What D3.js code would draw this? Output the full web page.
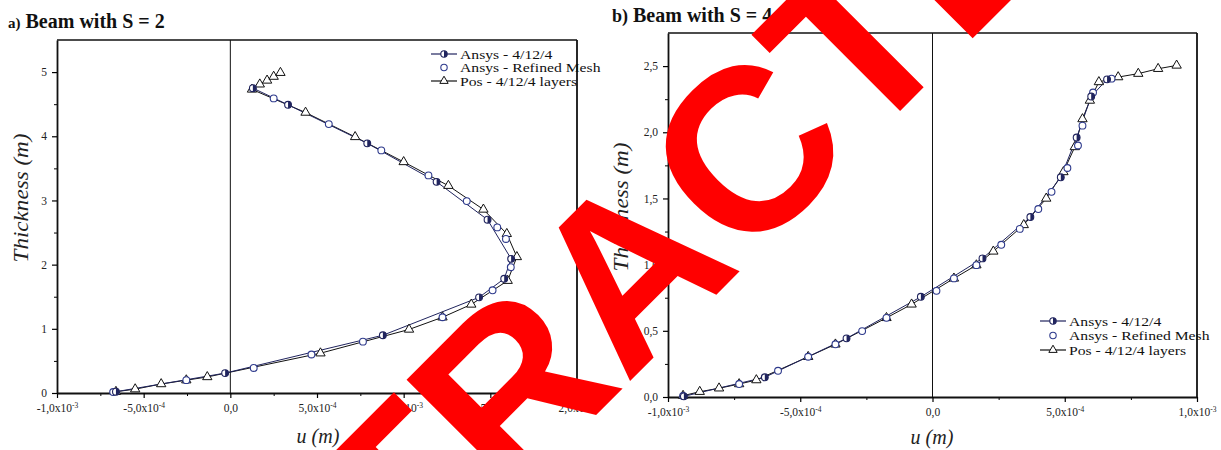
<!DOCTYPE html>
<html>
<head>
<meta charset="utf-8">
<script src="https://cdn.jsdelivr.net/npm/d3@7"></script>
<style>
  body { margin: 0; background: #fff; }
  svg { display: block; }
</style>
</head>
<body>
<svg id="chart" width="1221" height="450"></svg>
<script>
// ---- Panel a) beam with S = 2 : [u (m), thickness (m)] ----
const leftAnsys = [
  [-6.6e-4, 0.02], [-3.0e-5, 0.31], [8.8e-4, 0.90], [1.435e-3, 1.49], [1.58e-3, 1.78],
  [1.62e-3, 2.09], [1.484e-3, 2.70], [1.19e-3, 3.29], [7.9e-4, 3.89], [3.33e-4, 4.49],
  [1.3e-4, 4.75]
];
const leftRefined = [
  [-6.76e-4, 0.015], [-2.54e-4, 0.20], [1.35e-4, 0.39], [4.68e-4, 0.60], [7.65e-4, 0.80],
  [1.224e-3, 1.18], [1.513e-3, 1.60], [1.618e-3, 1.96], [1.59e-3, 2.40], [1.54e-3, 2.58],
  [1.364e-3, 2.99], [1.143e-3, 3.39], [8.71e-4, 3.78], [5.68e-4, 4.19], [2.5e-4, 4.59]
];
const leftPos = [
  [-6.6e-4, 0.02], [-5.49e-4, 0.06], [-3.99e-4, 0.14], [-2.54e-4, 0.20], [-1.33e-4, 0.25],
  [5.2e-4, 0.62], [1.031e-3, 0.99], [1.224e-3, 1.18], [1.39e-3, 1.38], [1.6e-3, 1.75],
  [1.653e-3, 2.12], [1.595e-3, 2.48], [1.46e-3, 2.86], [1.258e-3, 3.23], [1.0e-3, 3.60],
  [7.2e-4, 3.99], [4.34e-4, 4.37], [1.25e-4, 4.73], [1.7e-4, 4.81], [2.12e-4, 4.87],
  [2.5e-4, 4.93], [2.89e-4, 4.99]
];
const leftXTicks = [-1e-3, -5e-4, 0, 5e-4, 1e-3, 1.5e-3, 2e-3];
const leftXLabels = [["-1,0", "-3"], ["-5,0", "-4"], ["0,0", ""], ["5,0", "-4"], ["1,0", "-3"], ["1,5", "-3"], ["2,0", "-3"]];
const leftYTicks = [0, 1, 2, 3, 4, 5];
const leftYLabels = ["0", "1", "2", "3", "4", "5"];

// ---- Panel b) ----
const rightAnsys = [
  [-9.4e-4, 0.005], [-6.34e-4, 0.149], [-3.25e-4, 0.443], [-4.4e-5, 0.757], [1.89e-4, 1.047],
  [3.7e-4, 1.36], [4.85e-4, 1.66], [5.45e-4, 1.96], [6.0e-4, 2.27], [6.6e-4, 2.40]
];
const rightRefined = [
  [-9.43e-4, 0.008], [-7.31e-4, 0.098], [-5.84e-4, 0.198], [-4.70e-4, 0.304], [-3.67e-4, 0.398],
  [-2.66e-4, 0.498], [-1.74e-4, 0.598], [1.5e-5, 0.802], [8.1e-5, 0.896], [1.66e-4, 0.996],
  [2.6e-4, 1.15], [3.3e-4, 1.27], [4.0e-4, 1.42], [4.5e-4, 1.55], [5.1e-4, 1.73],
  [5.5e-4, 1.90], [5.67e-4, 2.05], [6.07e-4, 2.30], [6.77e-4, 2.405]
];
const rightPos = [
  [-9.43e-4, 0.01], [-8.8e-4, 0.04], [-8.07e-4, 0.066], [-7.31e-4, 0.098], [-6.66e-4, 0.128],
  [-4.70e-4, 0.304], [-3.67e-4, 0.398], [-1.74e-4, 0.598], [-7.9e-5, 0.70], [8.1e-5, 0.896],
  [1.66e-4, 0.996], [2.3e-4, 1.10], [3.45e-4, 1.30], [4.3e-4, 1.50], [4.95e-4, 1.70],
  [5.38e-4, 1.889], [5.67e-4, 2.10], [5.95e-4, 2.24], [6.29e-4, 2.38], [7.02e-4, 2.417],
  [7.78e-4, 2.443], [8.53e-4, 2.48], [9.23e-4, 2.505]
];
const rightXTicks = [-1e-3, -5e-4, 0, 5e-4, 1e-3];
const rightXLabels = [["-1,0", "-3"], ["-5,0", "-4"], ["0,0", ""], ["5,0", "-4"], ["1,0", "-3"]];
const rightYTicks = [0, 0.5, 1, 1.5, 2, 2.5];
const rightYLabels = ["0,0", "0,5", "1,0", "1,5", "2,0", "2,5"];

const legendNames = ["Ansys - 4/12/4", "Ansys - Refined Mesh", "Pos - 4/12/4 layers"];

const SERIF = "'Liberation Serif','Times New Roman',serif";
const NAVY = "#20245e";
const BLUE = "#2e3a8c";
const svg = d3.select("#chart");

// widen a text element horizontally by a factor, keeping its font size
function widen(sel, k) {
  sel.each(function () {
    const w = this.getComputedTextLength();
    d3.select(this).attr("textLength", w * k).attr("lengthAdjust", "spacingAndGlyphs");
  });
}

function halfDisc(g, cx, cy, r) {
  g.append("circle").attr("cx", cx).attr("cy", cy).attr("r", r)
    .attr("fill", "#fff").attr("stroke", NAVY).attr("stroke-width", 1.1);
  g.append("path")
    .attr("transform", `translate(${cx},${cy})`)
    .attr("d", d3.arc()({ innerRadius: 0, outerRadius: r, startAngle: 0, endAngle: Math.PI }))
    .attr("fill", NAVY);
}

function drawPanel(cfg) {
  const x = d3.scaleLinear().domain(cfg.xDomain).range([cfg.left, cfg.right]);
  const y = d3.scaleLinear().domain(cfg.yDomain).range([cfg.bottom, cfg.top]);
  const g = svg.append("g");

  // title
  const t = g.append("text").attr("x", cfg.titleX).attr("y", cfg.titleY)
    .style("font-family", SERIF).style("font-weight", "bold").attr("fill", "#111");
  t.append("tspan").style("font-size", cfg.tagSize + "px").text(cfg.titleTag);
  t.append("tspan").style("font-size", "20px").text(" " + cfg.title);

  // frame top and right
  g.append("line").attr("x1", cfg.left).attr("x2", cfg.right).attr("y1", cfg.top).attr("y2", cfg.top)
    .attr("stroke", "#111").attr("stroke-width", 1.6);
  g.append("line").attr("x1", cfg.right).attr("x2", cfg.right).attr("y1", cfg.top).attr("y2", cfg.bottom)
    .attr("stroke", "#111").attr("stroke-width", 1.8);
  // u = 0 reference line
  g.append("line").attr("x1", x(0)).attr("x2", x(0)).attr("y1", cfg.top).attr("y2", cfg.bottom)
    .attr("stroke", "#111").attr("stroke-width", 1);

  // minor ticks
  g.append("g").attr("transform", `translate(0,${cfg.bottom})`)
    .call(d3.axisBottom(x).tickValues(cfg.xMinor).tickSize(3).tickSizeOuter(0).tickFormat(""))
    .call(a => a.select(".domain").remove());
  g.append("g").attr("transform", `translate(${cfg.left},0)`)
    .call(d3.axisLeft(y).tickValues(cfg.yMinor).tickSize(3).tickSizeOuter(0).tickFormat(""))
    .call(a => a.select(".domain").remove());

  // major x axis
  const xa = g.append("g").attr("transform", `translate(0,${cfg.bottom})`)
    .call(d3.axisBottom(x).tickValues(cfg.xTicks).tickSize(5).tickSizeOuter(0).tickPadding(6)
      .tickFormat(() => ""));
  xa.select(".domain").attr("stroke-width", 1.8).attr("stroke", "#111");
  xa.selectAll(".tick line").attr("stroke-width", 1.2);
  xa.selectAll(".tick text").each(function (d, i) {
    const [m, e] = cfg.xLabels[i];
    const txt = d3.select(this).style("font-family", SERIF).style("font-size", "11.5px").attr("fill", "#222");
    if (e === "") {
      txt.text(m);
    } else {
      txt.append("tspan").text(m + "x10");
      txt.append("tspan").attr("dy", "-4").style("font-size", "7.5px").text(e);
    }
  });

  // major y axis
  const ya = g.append("g").attr("transform", `translate(${cfg.left},0)`)
    .call(d3.axisLeft(y).tickValues(cfg.yTicks).tickSize(5).tickSizeOuter(0).tickPadding(5)
      .tickFormat((d, i) => cfg.yLabels[i]));
  ya.select(".domain").attr("stroke-width", 1.8).attr("stroke", "#111");
  ya.selectAll(".tick line").attr("stroke-width", 1.2);
  ya.selectAll(".tick text").style("font-family", SERIF).style("font-size", "11.5px").attr("fill", "#222");

  // axis titles
  g.append("text").attr("transform", `translate(${cfg.yTitleX},${cfg.yTitleY}) rotate(-90)`)
    .attr("text-anchor", "middle").style("font-family", SERIF).style("font-style", "italic")
    .style("font-size", "21px").attr("fill", "#222").text("Thickness (m)")
    .call(widen, 1.1);
  g.append("text").attr("x", cfg.xTitleX).attr("y", cfg.xTitleY)
    .attr("text-anchor", "middle").style("font-family", SERIF).style("font-style", "italic")
    .style("font-size", "20px").attr("fill", "#222").text("u (m)");

  // curves
  const line = d3.line().x(d => x(d[0])).y(d => y(d[1]));
  g.append("path").datum(cfg.pos).attr("d", line).attr("fill", "none").attr("stroke", "#111").attr("stroke-width", 1);
  g.append("path").datum(cfg.ansys).attr("d", line).attr("fill", "none").attr("stroke", NAVY).attr("stroke-width", 1);

  const tri = d3.symbol(d3.symbolTriangle, 38);
  g.append("g").selectAll("path").data(cfg.pos).join("path")
    .attr("transform", d => `translate(${x(d[0])},${y(d[1])})`)
    .attr("d", tri).attr("fill", "#fff").attr("stroke", "#111").attr("stroke-width", 1);
  g.append("g").selectAll("circle").data(cfg.refined).join("circle")
    .attr("cx", d => x(d[0])).attr("cy", d => y(d[1])).attr("r", 3.4)
    .attr("fill", "#fff").attr("stroke", BLUE).attr("stroke-width", 1.1);
  const ga = g.append("g");
  cfg.ansys.forEach(d => halfDisc(ga, x(d[0]), y(d[1]), 3.4));

  // legend
  const lg = g.append("g");
  cfg.legendRows.forEach((ry, i) => {
    const sx = cfg.legendX, ex = cfg.legendX + 26, mx = (sx + ex) / 2;
    if (i === 0) {
      lg.append("line").attr("x1", sx).attr("x2", ex).attr("y1", ry).attr("y2", ry).attr("stroke", NAVY).attr("stroke-width", 1.2);
      halfDisc(lg, mx, ry, 3.2);
    } else if (i === 1) {
      lg.append("circle").attr("cx", mx).attr("cy", ry).attr("r", 3.2).attr("fill", "#fff").attr("stroke", BLUE).attr("stroke-width", 1.1);
    } else {
      lg.append("line").attr("x1", sx).attr("x2", ex).attr("y1", ry).attr("y2", ry).attr("stroke", "#111").attr("stroke-width", 1.2);
      lg.append("path").attr("transform", `translate(${mx},${ry})`).attr("d", d3.symbol(d3.symbolTriangle, 30))
        .attr("fill", "#fff").attr("stroke", "#111").attr("stroke-width", 1);
    }
    lg.append("text").attr("x", ex + 3).attr("y", ry + 4.5)
      .style("font-family", SERIF).style("font-size", "13.5px").attr("fill", "#111").text(legendNames[i])
      .call(widen, 1.16);
  });
}

drawPanel({
  left: 57, right: 577, top: 40, bottom: 393,
  xDomain: [-1e-3, 2e-3], yDomain: [0, 5.5],
  xTicks: leftXTicks, xLabels: leftXLabels,
  xMinor: d3.range(-7.5e-4, 2e-3, 5e-4),
  yTicks: leftYTicks, yLabels: leftYLabels,
  yMinor: d3.range(0.5, 5.5, 1),
  titleX: 8, titleY: 28, titleTag: "a)", tagSize: 15, title: "Beam with S = 2",
  yTitleX: 28, yTitleY: 198, xTitleX: 318, xTitleY: 443,
  ansys: leftAnsys, refined: leftRefined, pos: leftPos,
  legendX: 431, legendRows: [54, 67.5, 81]
});

drawPanel({
  left: 668, right: 1197, top: 33, bottom: 397,
  xDomain: [-1e-3, 1e-3], yDomain: [0, 2.75],
  xTicks: rightXTicks, xLabels: rightXLabels,
  xMinor: d3.range(-7.5e-4, 1e-3, 5e-4),
  yTicks: rightYTicks, yLabels: rightYLabels,
  yMinor: d3.range(0.25, 2.75, 0.5),
  titleX: 612, titleY: 22, titleTag: "b)", tagSize: 18, title: "Beam with S = 4",
  yTitleX: 628, yTitleY: 207, xTitleX: 932, xTitleY: 444,
  ansys: rightAnsys, refined: rightRefined, pos: rightPos,
  legendX: 1040, legendRows: [321, 335.5, 350]
});

// retraction stamp across both panels
svg.append("text")
  .attr("transform", "translate(685,326) rotate(-45)")
  .attr("text-anchor", "middle")
  .style("font-family", "'Liberation Sans',Arial,sans-serif")
  .style("font-weight", "bold")
  .style("font-size", "231px")
  .attr("fill", "#ff0000")
  .text("RETRACTED");
</script>
</body>
</html>
